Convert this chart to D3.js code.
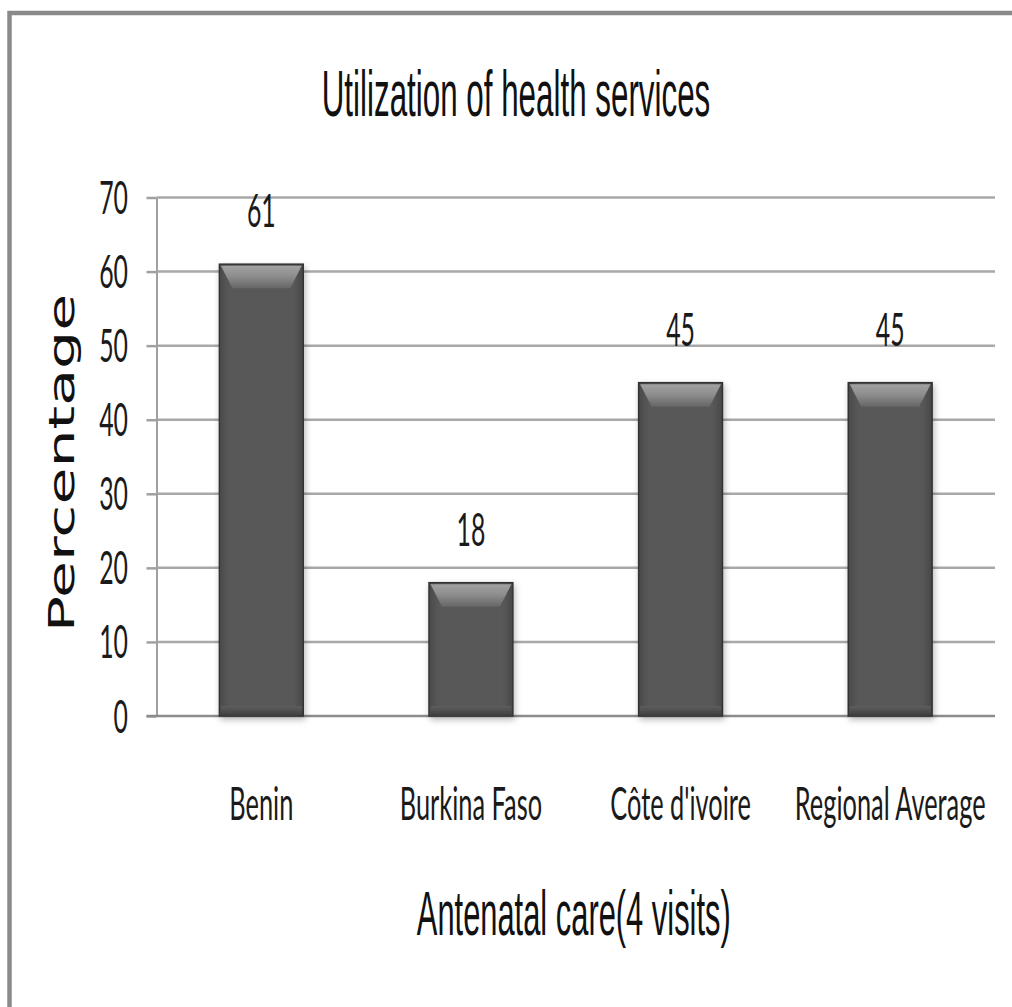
<!DOCTYPE html>
<html>
<head>
<meta charset="utf-8">
<script src="https://cdn.jsdelivr.net/npm/d3@7"></script>
<style>
  html, body { margin: 0; padding: 0; background: #fff; }
  svg { display: block; }
</style>
</head>
<body>
<svg id="chart" width="1012" height="1007"></svg>
<script>
// Data
const categories = ["Benin", "Burkina Faso", "Côte d'ivoire", "Regional Average"];
const values = [61, 18, 45, 45];
const yTicks = [0, 10, 20, 30, 40, 50, 60, 70];
const chartTitle = "Utilization of health services";
const xTitle = "Antenatal care(4 visits)";
const yTitle = "Percentage";

const W = 1012, H = 1007;
const svg = d3.select("#chart");

const plot = { left: 156.5, right: 995, top: 197.5, bottom: 716 };

const x = d3.scaleBand()
  .domain(categories)
  .range([plot.left, plot.right])
  .paddingInner(0.6)
  .paddingOuter(0.3);

const y = d3.scaleLinear()
  .domain([0, 70])
  .range([plot.bottom, plot.top]);

// condensed text rendering: tall, narrow glyphs
const condensedFont = "Lato, 'Open Sans', sans-serif";
const condensedK = 0.54;
const titleFont = "'Liberation Sans', Arial, sans-serif";
const titleK = 0.49;

// defs: shadow and bevel gradients
const defs = svg.append("defs");
const shadow = defs.append("filter").attr("id", "barShadow")
  .attr("x", "-20%").attr("y", "-10%").attr("width", "140%").attr("height", "130%");
shadow.append("feDropShadow")
  .attr("dx", 1.5).attr("dy", 3).attr("stdDeviation", 3)
  .attr("flood-color", "#000").attr("flood-opacity", 0.28);

const bodyGrad = defs.append("linearGradient").attr("id", "barBody")
  .attr("x1", "0").attr("x2", "1").attr("y1", "0").attr("y2", "0");
bodyGrad.append("stop").attr("offset", "0").attr("stop-color", "#4a4a4a");
bodyGrad.append("stop").attr("offset", "0.12").attr("stop-color", "#585858");
bodyGrad.append("stop").attr("offset", "0.88").attr("stop-color", "#585858");
bodyGrad.append("stop").attr("offset", "1").attr("stop-color", "#484848");

const bevelGrad = defs.append("linearGradient").attr("id", "barBevel")
  .attr("x1", "0").attr("x2", "0").attr("y1", "0").attr("y2", "1");
bevelGrad.append("stop").attr("offset", "0").attr("stop-color", "#a2a2a2");
bevelGrad.append("stop").attr("offset", "0.45").attr("stop-color", "#8e8e8e");
bevelGrad.append("stop").attr("offset", "1").attr("stop-color", "#666");

const bottomGrad = defs.append("linearGradient").attr("id", "barBottom")
  .attr("x1", "0").attr("x2", "0").attr("y1", "0").attr("y2", "1");
bottomGrad.append("stop").attr("offset", "0").attr("stop-color", "#5e5e5e");
bottomGrad.append("stop").attr("offset", "1").attr("stop-color", "#404040");

// background and outer frame
svg.append("rect").attr("width", W).attr("height", H).attr("fill", "#fff");
svg.append("rect")
  .attr("x", 9.5).attr("y", 13)
  .attr("width", W + 40).attr("height", H + 40)
  .attr("fill", "#fff")
  .attr("stroke", "#8a8a8a")
  .attr("stroke-width", 4.5);

// gridlines
svg.append("g")
  .selectAll("line.grid")
  .data(yTicks.filter(d => d > 0))
  .join("line")
  .attr("x1", plot.left).attr("x2", plot.right)
  .attr("y1", d => y(d)).attr("y2", d => y(d))
  .attr("stroke", "#a8a8a8")
  .attr("stroke-width", 2.5);

// y axis
const yAxis = svg.append("g")
  .attr("transform", `translate(${plot.left},0)`)
  .call(d3.axisLeft(y).tickValues(yTicks).tickSize(10).tickPadding(0).tickSizeOuter(0));
yAxis.select(".domain").attr("stroke", "#a0a0a0").attr("stroke-width", 2);
yAxis.selectAll(".tick line").attr("stroke", "#a0a0a0").attr("stroke-width", 2.5);
yAxis.selectAll(".tick text")
  .attr("x", null).attr("dy", null)
  .attr("text-anchor", "end")
  .attr("transform", `translate(-28.5,16) scale(${condensedK},1)`)
  .style("font-family", condensedFont)
  .style("font-size", "46px")
  .attr("fill", "#1a1a1a");

// baseline axis
svg.append("line")
  .attr("x1", plot.left - 10).attr("x2", plot.right)
  .attr("y1", y(0)).attr("y2", y(0))
  .attr("stroke", "#8c8c8c")
  .attr("stroke-width", 2.5);

// bars
const bars = svg.append("g").selectAll("g.bar")
  .data(categories.map((c, i) => ({ c, v: values[i] })))
  .join("g")
  .attr("class", "bar")
  .attr("filter", "url(#barShadow)");

bars.each(function (d) {
  const g = d3.select(this);
  const x0 = x(d.c), w = x.bandwidth(), x1 = x0 + w;
  const top = y(d.v), bot = y(0);
  g.append("rect")
    .attr("x", x0).attr("y", top)
    .attr("width", w).attr("height", bot - top)
    .attr("fill", "url(#barBody)")
    .attr("stroke", "#333")
    .attr("stroke-width", 1.5);
  // top bevel
  g.append("path")
    .attr("d", `M${x0 + 1.5},${top + 1.5} L${x1 - 1.5},${top + 1.5} L${x1 - 13},${top + 24} L${x0 + 13},${top + 24} Z`)
    .attr("fill", "url(#barBevel)");
  // bottom bevel
  g.append("rect")
    .attr("x", x0 + 1.5).attr("y", bot - 10)
    .attr("width", w - 3).attr("height", 9)
    .attr("fill", "url(#barBottom)");
});

// value labels
svg.append("g").selectAll("text")
  .data(categories.map((c, i) => ({ c, v: values[i] })))
  .join("text")
  .attr("text-anchor", "middle")
  .attr("transform", d => `translate(${x(d.c) + x.bandwidth() / 2},${y(d.v) - 37}) scale(${condensedK},1)`)
  .style("font-family", condensedFont)
  .style("font-size", "46px")
  .attr("fill", "#1a1a1a")
  .text(d => d.v);

// category labels
svg.append("g").selectAll("text")
  .data(categories)
  .join("text")
  .attr("text-anchor", "middle")
  .attr("transform", d => `translate(${x(d) + x.bandwidth() / 2},820) scale(${condensedK},1)`)
  .style("font-family", condensedFont)
  .style("font-size", "47px")
  .attr("fill", "#1a1a1a")
  .text(d => d);

// chart title
svg.append("text")
  .attr("text-anchor", "middle")
  .attr("transform", `translate(516,116) scale(${titleK},1)`)
  .style("font-family", titleFont)
  .style("font-size", "64px")
  .attr("fill", "#111")
  .text(chartTitle);

// x axis title
svg.append("text")
  .attr("text-anchor", "middle")
  .attr("transform", `translate(${(plot.left + plot.right) / 2 - 2},935) scale(${titleK},1)`)
  .style("font-family", titleFont)
  .style("font-size", "63px")
  .attr("fill", "#111")
  .text(xTitle);

// y axis title (stretched along its length)
svg.append("text")
  .attr("text-anchor", "middle")
  .attr("transform", "translate(74,463) rotate(-90) scale(1.72,1)")
  .style("font-family", "'DejaVu Sans', Verdana, sans-serif")
  .style("font-size", "35px")
  .attr("fill", "#111")
  .text(yTitle);
</script>
</body>
</html>
